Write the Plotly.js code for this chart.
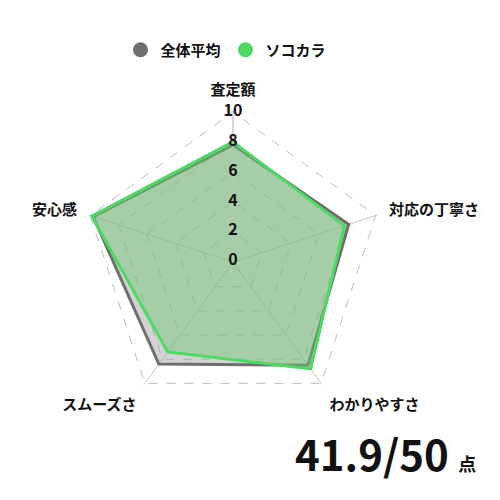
<!DOCTYPE html>
<html>
<head>
<meta charset="utf-8">
<script src="https://cdn.plot.ly/plotly-3.0.1.min.js"></script>
<style>
  html, body { margin: 0; padding: 0; background: #fff; }
  #chart { width: 500px; height: 500px; }
</style>
</head>
<body>
<div id="chart"></div>
<script>
// review categories, clockwise from top
const categories = ['査定額', '対応の丁寧さ', 'わかりやすさ', 'スムーズさ', '安心感'];
const averageValues = [7.8, 8.1, 8.5, 8.4, 9.8];
const sokokaraValues = [8.0, 7.8, 8.8, 7.4, 9.9];
const seriesNames = ['全体平均', 'ソコカラ'];
const radialTicks = [0, 2, 4, 6, 8, 10];
const totalScore = 41.9;
const maxScore = 50;

const FONT = '"Noto Sans CJK JP", "Noto Sans", sans-serif';
const GRAY = '#6f6f6f';
const GREEN = '#4cd964';

// close the polygon
const closed = arr => arr.concat([arr[0]]);

const traces = [
  {
    type: 'scatterpolar',
    r: closed(averageValues),
    theta: closed(categories),
    name: seriesNames[0],
    mode: 'lines',
    fill: 'toself',
    fillcolor: 'rgba(150,150,150,0.42)',
    line: { color: GRAY, width: 3 },
    showlegend: false,
    hoverinfo: 'skip'
  },
  {
    type: 'scatterpolar',
    r: closed(sokokaraValues),
    theta: closed(categories),
    name: seriesNames[1],
    mode: 'lines',
    fill: 'toself',
    fillcolor: 'rgba(110,200,110,0.45)',
    line: { color: GREEN, width: 3 },
    showlegend: false,
    hoverinfo: 'skip'
  },
  // radial tick labels on the top spoke; drawn on a circular twin subplot
  // because the pentagon one hides a point sitting right at the centre
  {
    type: 'scatterpolar',
    subplot: 'polar2',
    r: radialTicks,
    theta: radialTicks.map(() => categories[0]),
    mode: 'text',
    text: radialTicks.map(String),
    textposition: 'middle center',
    textfont: { family: FONT, size: 16, color: '#111', weight: 'bold' },
    showlegend: false,
    hoverinfo: 'skip',
    cliponaxis: false
  },
  // legend entries drawn as round dots
  {
    type: 'scatterpolar', r: [null], theta: [categories[0]],
    name: seriesNames[0], mode: 'markers',
    marker: { color: GRAY, size: 15, symbol: 'circle' }
  },
  {
    type: 'scatterpolar', r: [null], theta: [categories[0]],
    name: seriesNames[1], mode: 'markers',
    marker: { color: GREEN, size: 15, symbol: 'circle' }
  }
];

// radius ~151px so that 10 sits 150px from the centre (233, 262)
const polarDomain = { x: [0.163, 0.769], y: [0.173, 0.779] };
// a little headroom so the 10 gridline is kept
const radialRange = [-0.05, 10.1];

const layout = {
  width: 500,
  height: 500,
  margin: { l: 0, r: 0, t: 0, b: 0 },
  paper_bgcolor: '#fff',
  font: { family: FONT, size: 15, color: '#111' },
  showlegend: true,
  legend: {
    orientation: 'h',
    x: 0.452, xanchor: 'center',
    y: 0.9, yanchor: 'middle',
    font: { family: FONT, size: 15, color: '#111', weight: 'bold' },
    itemwidth: 30
  },
  polar: {
    domain: polarDomain,
    gridshape: 'linear',
    bgcolor: 'rgba(0,0,0,0)',
    radialaxis: {
      range: radialRange,
      tickvals: radialTicks,
      showticklabels: false,
      angle: 90,
      showline: true,
      linecolor: '#c8c8c8',
      linewidth: 1,
      gridcolor: '#bdbdbd',
      griddash: 'dash',
      gridwidth: 1,
      ticks: ''
    },
    angularaxis: {
      rotation: 90,
      direction: 'clockwise',
      showline: false,
      gridcolor: '#c8c8c8',
      gridwidth: 1,
      ticks: 'outside',
      ticklen: 9,
      tickcolor: 'rgba(0,0,0,0)',
      tickfont: { family: FONT, size: 15, color: '#111', weight: 'bold' }
    }
  },
  polar2: {
    domain: polarDomain,
    bgcolor: 'rgba(0,0,0,0)',
    radialaxis: {
      range: radialRange,
      visible: false
    },
    angularaxis: {
      rotation: 90,
      direction: 'clockwise',
      categoryorder: 'array',
      categoryarray: categories,
      visible: false
    }
  },
  annotations: [
    {
      xref: 'paper', yref: 'paper',
      x: 0.955, y: 0.095, xanchor: 'right', yanchor: 'middle',
      showarrow: false,
      text: '<b>' + totalScore.toFixed(1) + '/' + maxScore + '</b> <span style="font-size:18px"><b>点</b></span>',
      font: { family: FONT, size: 42, color: '#111' }
    }
  ]
};

Plotly.newPlot('chart', traces, layout, { displayModeBar: false, staticPlot: true });
</script>
</body>
</html>
